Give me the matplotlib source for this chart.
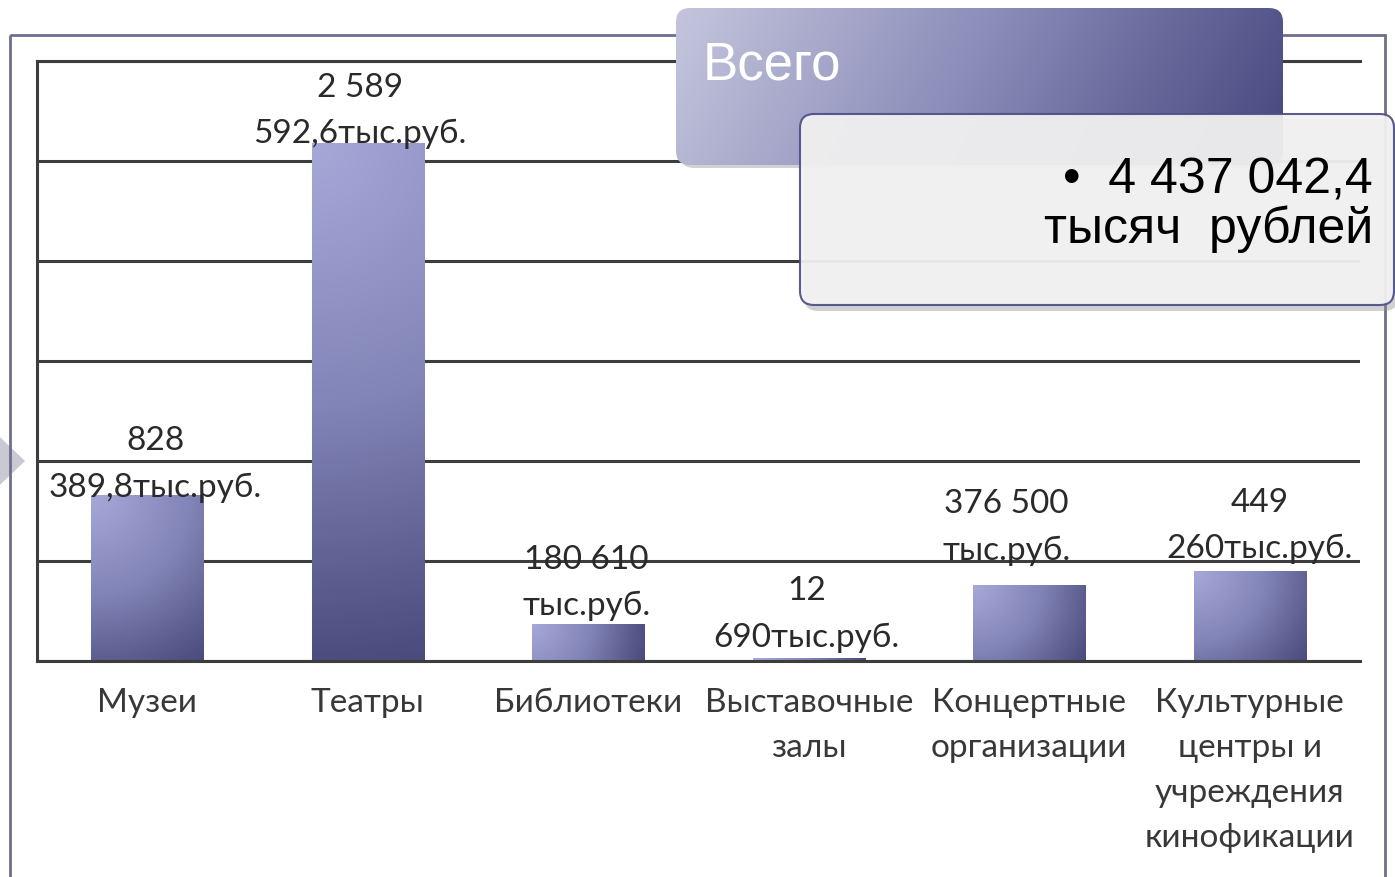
import numpy as np
import matplotlib
matplotlib.use("Agg")
import matplotlib.pyplot as plt
from matplotlib.colors import LinearSegmentedColormap
from matplotlib.patches import FancyBboxPatch, Rectangle, Polygon

# spending by institution type, thousand roubles
categories = ["Музеи", "Театры", "Библиотеки", "Выставочные\nзалы",
              "Концертные\nорганизации", "Культурные\nцентры и\nучреждения\nкинофикации"]
values = [828389.8, 2589592.6, 180610.0, 12690.0, 376500.0, 449260.0]
value_labels = ["828\n389,8тыс.руб.", "2 589\n592,6тыс.руб.", "180 610\nтыс.руб.",
                "12\n690тыс.руб.", "376 500\nтыс.руб.", "449\n260тыс.руб."]
total_title = "Всего"
total_text = "•  4 437 042,4\nтысяч  рублей"

# label nudges in pixels (dx, dy above bar top)
label_offsets = [(8, 31), (-8, 32), (-2, 42), (-2, 44), (-23, 58), (10, 45)]

W, H = 1395, 877
fig = plt.figure(figsize=(W / 100, H / 100), dpi=100)
fig.patch.set_facecolor("white")

grid_c = "#3d3d3d"
ax = fig.add_axes([37 / W, (H - 661) / H, 1323 / W, 600 / H])
ax.set_xlim(-0.5, 5.5)
ax.set_ylim(0, 3000000)
ax.set_yticks(np.arange(0, 3000001, 500000))
ax.yaxis.grid(True, color=grid_c, lw=2.2)
ax.set_axisbelow(True)
for s in ["left", "bottom", "top"]:
    ax.spines[s].set_color(grid_c)
    ax.spines[s].set_linewidth(2.2)
ax.spines["right"].set_visible(False)
ax.tick_params(left=False, labelleft=False, bottom=False, pad=16)

x = np.arange(len(values))
bars = ax.bar(x, values, width=0.51, color="none", edgecolor="none", zorder=3)

bar_cmap = LinearSegmentedColormap.from_list("bar", ["#a6a9d8", "#8184b6", "#4a4a7c"])
for rect in bars:
    x0, y0 = rect.get_x(), rect.get_y()
    w, h = rect.get_width(), rect.get_height()
    p0 = ax.transData.transform((x0, y0))
    p1 = ax.transData.transform((x0 + w, y0 + h))
    wp, hp = abs(p1[0] - p0[0]), max(abs(p1[1] - p0[1]), 2)
    xx, yy = np.meshgrid(np.linspace(0, wp, int(wp)), np.linspace(0, hp, int(hp) + 1))
    t = np.sqrt(xx ** 2 + yy ** 2) / np.hypot(wp, hp)
    ax.imshow(t, cmap=bar_cmap, vmin=0, vmax=1, extent=(x0, x0 + w, y0, y0 + h),
              aspect="auto", origin="upper", zorder=2, interpolation="bilinear")

for i, rect in enumerate(bars):
    dx, dy = label_offsets[i]
    ax.annotate(value_labels[i], (rect.get_x() + rect.get_width() / 2, rect.get_height()),
                xytext=(dx, dy), textcoords="offset pixels", ha="center", va="center",
                fontsize=24, family="Lato", color="#2a2a2a", linespacing=1.67, zorder=4)

ax.set_xticks(x)
ax.set_xticklabels(categories, fontsize=24, family="Lato", color="#383838",
                   linespacing=1.63, va="top")
ax.set_xlim(-0.5, 5.5)
ax.set_ylim(0, 3000000)

# overlay in pixel coordinates for the frame and callout boxes
ov = fig.add_axes([0, 0, 1, 1], zorder=10)
ov.set_xlim(0, W)
ov.set_ylim(H, 0)
ov.axis("off")
ov.patch.set_alpha(0)

ov.add_patch(Polygon([(-20, 418), (25, 461), (-20, 504)], closed=True,
                     facecolor="#c9c9d3", edgecolor="none", zorder=1))
ov.add_patch(Rectangle((10, 35), 1375, 900, facecolor="none",
                       edgecolor="#6e6e92", lw=2, zorder=2))

# "Всего" box with horizontal gradient
ov.add_patch(FancyBboxPatch((680, 13), 603, 155, boxstyle="round,pad=0,rounding_size=14",
                            facecolor="#9a9a9a", edgecolor="none", alpha=0.45, zorder=3))
head = FancyBboxPatch((676, 8), 607, 157, boxstyle="round,pad=0,rounding_size=14",
                      facecolor="none", edgecolor="none", zorder=4)
ov.add_patch(head)
head_cmap = LinearSegmentedColormap.from_list("head", ["#c4c5dc", "#8a8bb8", "#4b4c82"])
gx, gy = np.meshgrid(np.linspace(0, 1, 300), np.linspace(0, 1, 80))
g = np.clip(gx * 0.92 + gy * 0.12, 0, 1)
im = ov.imshow(g, cmap=head_cmap, extent=(676, 1283, 165, 8), aspect="auto",
               zorder=4, interpolation="bilinear")
im.set_clip_path(head)
ov.text(703, 66, total_title, color="white", fontsize=38, family="Liberation Sans",
        va="center", ha="left", zorder=5)

# total value box
ov.add_patch(FancyBboxPatch((804, 119), 594, 192, boxstyle="round,pad=0,rounding_size=14",
                            facecolor="#8a8a8a", edgecolor="none", alpha=0.4, zorder=6))
ov.add_patch(FancyBboxPatch((800, 114), 594, 191, boxstyle="round,pad=0,rounding_size=14",
                            facecolor="#f3f3f3", edgecolor="#4e4f86", lw=1.5, alpha=0.93,
                            zorder=7))
ov.text(1373, 205, total_text, color="black", fontsize=36,
        family=["Liberation Sans Narrow", "Liberation Sans"], ha="right", va="center",
        multialignment="right", linespacing=1.05, zorder=8)
ov.set_xlim(0, W)
ov.set_ylim(H, 0)

fig.savefig("out.png", dpi=100)
